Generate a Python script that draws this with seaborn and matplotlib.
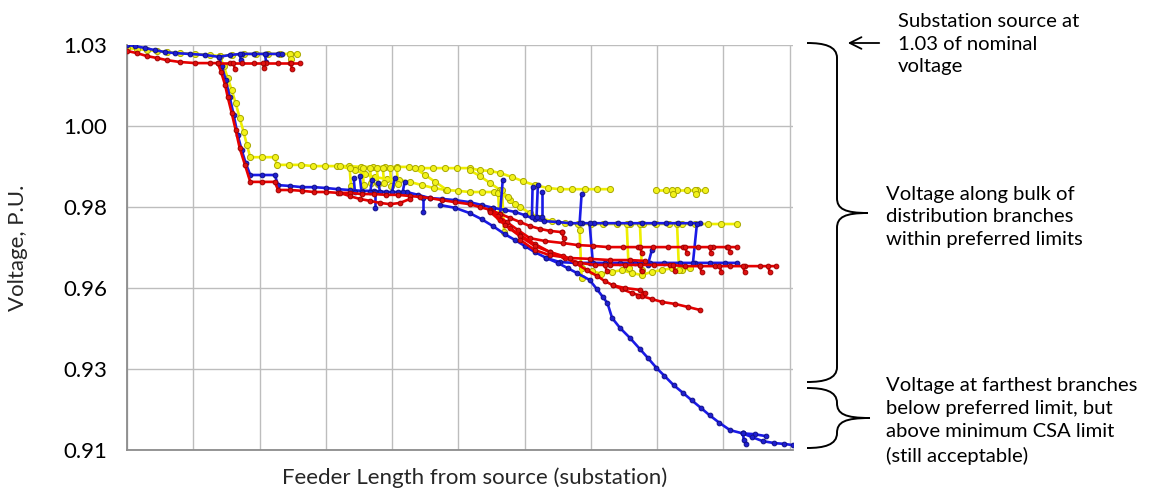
import numpy as np
import pandas as pd
import seaborn as sns
import matplotlib
matplotlib.use("Agg")
import matplotlib.pyplot as plt
from matplotlib.path import Path
from matplotlib.patches import PathPatch
from matplotlib.ticker import NullLocator

# y ticks are drawn evenly spaced although the values are not
Y_TICKS = [0.91, 0.93, 0.96, 0.98, 1.00, 1.03]
Y_TICK_LABELS = ["0.91", "0.93", "0.96", "0.98", "1.00", "1.03"]
Y_SLOTS = [0, 1, 2, 3, 4, 5]

# ---- blue phase ----
BLUE_MAIN_X = [0.00, 0.12, 0.27, 0.42, 0.57, 0.72, 0.95, 1.18, 1.39, 1.43, 1.49, 1.55, 1.61,
               1.67, 1.73, 1.79, 1.86, 2.04, 2.23, 2.28, 2.46, 2.64, 2.82, 3.00, 3.18, 3.36,
               3.54, 3.73, 3.91, 4.09, 4.22, 4.39, 4.57, 4.75, 4.95, 5.17, 5.35, 5.52]
BLUE_MAIN_V = [1.0300, 1.0296, 1.0289, 1.0281, 1.0274, 1.0270, 1.0267, 1.0263, 1.0256, 1.0222,
               1.0170, 1.0107, 1.0041, 0.9978, 0.9941, 0.9909, 0.9879, 0.9879, 0.9879, 0.9854,
               0.9852, 0.9849, 0.9849, 0.9847, 0.9844, 0.9842, 0.9840, 0.9840, 0.9837, 0.9837,
               0.9837, 0.9830, 0.9822, 0.9820, 0.9817, 0.9812, 0.9805, 0.9798]
BLUE_TOP_X = [1.39, 1.55, 1.73, 1.92, 2.10, 2.28, 2.34]
BLUE_TOP_V = [1.0256, 1.0263, 1.0267, 1.0267, 1.0267, 1.0267, 1.0267]
BLUE_UPPER_X = [5.52, 5.70, 5.85, 6.00, 6.15, 6.30, 6.50, 6.68, 6.86, 7.04, 7.22, 7.41, 7.59,
                7.77, 7.95, 8.13, 8.31, 8.49, 8.64]
BLUE_UPPER_V = [0.9798, 0.9793, 0.9788, 0.9780, 0.9770, 0.9765, 0.9763, 0.9760, 0.9760, 0.9760,
                0.9760, 0.9760, 0.9760, 0.9760, 0.9760, 0.9760, 0.9760, 0.9760, 0.9760]
BLUE_LOWER_X = [4.72, 4.95, 5.17, 5.35, 5.52, 5.70, 5.85, 6.00, 6.15, 6.33, 6.53, 6.76, 6.98,
                7.21, 7.44, 7.66, 7.89, 8.11, 8.34, 8.57, 8.79, 9.02, 9.20]
BLUE_LOWER_V = [0.9805, 0.9798, 0.9785, 0.9770, 0.9753, 0.9733, 0.9719, 0.9704, 0.9689, 0.9674,
                0.9664, 0.9662, 0.9662, 0.9662, 0.9662, 0.9662, 0.9662, 0.9662, 0.9662, 0.9662,
                0.9662, 0.9662, 0.9662]
BLUE_FAR_X = [6.33, 6.50, 6.65, 6.79, 6.98, 7.09, 7.18, 7.25, 7.32, 7.44, 7.59, 7.74, 7.86,
              7.99, 8.11, 8.25, 8.39, 8.52, 8.66, 8.79, 8.94, 9.10, 9.29, 9.47, 9.65]
BLUE_FAR_V = [0.9674, 0.9662, 0.9649, 0.9637, 0.9620, 0.9596, 0.9567, 0.9544, 0.9489, 0.9452,
              0.9415, 0.9374, 0.9341, 0.9304, 0.9283, 0.9260, 0.9241, 0.9223, 0.9204, 0.9186,
              0.9167, 0.9149, 0.9141, 0.9139, 0.9134]
BLUE_TAIL_X = [9.29, 9.43, 9.59, 9.77, 9.92, 10.05]
BLUE_TAIL_V = [0.9141, 0.9132, 0.9122, 0.9117, 0.9115, 0.9112]
BLUE_STUB_X = [9.29, 9.31, 9.34]
BLUE_STUB_V = [0.9141, 0.9125, 0.9115]
# short laterals: (x0, v0, x1, v1)
BLUE_LATERALS = [
    (1.70, 1.0267, 1.72, 1.0244), (2.08, 1.0267, 2.10, 1.0237),
    (3.44, 0.9837, 3.42, 0.9872), (3.54, 0.9837, 3.51, 0.9877), (3.67, 0.9837, 3.70, 0.9867),
    (3.82, 0.9837, 3.79, 0.9859), (4.00, 0.9837, 4.04, 0.9872), (4.16, 0.9837, 4.19, 0.9862),
    (3.74, 0.9837, 3.74, 0.9798), (4.46, 0.9822, 4.46, 0.9788),
    (5.63, 0.9783, 5.67, 0.9867), (6.11, 0.9775, 6.12, 0.9849), (6.18, 0.9775, 6.20, 0.9854),
    (6.26, 0.9775, 6.26, 0.9837), (6.83, 0.9760, 6.86, 0.9832), (6.98, 0.9760, 7.03, 0.9662),
    (8.54, 0.9662, 8.60, 0.9758), (7.92, 0.9694, 7.86, 0.9657),
]

# ---- red phase ----
RED_MAIN_X = [0.00, 0.15, 0.30, 0.45, 0.60, 0.80, 1.03, 1.25, 1.37, 1.42, 1.48, 1.52, 1.58,
              1.64, 1.70, 1.78, 1.86, 2.04, 2.23, 2.28, 2.46, 2.64, 2.82, 3.00, 3.18, 3.36,
              3.54, 3.73, 3.91, 4.09, 4.27, 4.42, 4.57, 4.75, 4.95, 5.17, 5.32, 5.48]
RED_MAIN_V = [1.0278, 1.0270, 1.0259, 1.0252, 1.0244, 1.0237, 1.0233, 1.0233, 1.0233, 1.0200,
              1.0152, 1.0107, 1.0048, 0.9990, 0.9946, 0.9904, 0.9862, 0.9862, 0.9862, 0.9842,
              0.9842, 0.9840, 0.9837, 0.9837, 0.9835, 0.9835, 0.9832, 0.9832, 0.9830, 0.9830,
              0.9827, 0.9825, 0.9822, 0.9817, 0.9812, 0.9807, 0.9800, 0.9793]
RED_TOP_X = [1.37, 1.55, 1.73, 1.92, 2.10, 2.28, 2.46, 2.61]
RED_TOP_V = [1.0233, 1.0233, 1.0233, 1.0233, 1.0233, 1.0233, 1.0233, 1.0233]
RED_BULGE_X = [3.21, 3.36, 3.51, 3.67, 3.82, 3.97, 4.12, 4.27]
RED_BULGE_V = [0.9835, 0.9827, 0.9820, 0.9815, 0.9810, 0.9807, 0.9810, 0.9820]
RED_SHORT_X = [5.48, 5.63, 5.78, 5.93, 6.08, 6.23, 6.38, 6.56]
RED_SHORT_V = [0.9793, 0.9783, 0.9773, 0.9763, 0.9753, 0.9746, 0.9741, 0.9738]
RED_UPPER_X = [5.48, 5.60, 5.73, 5.90, 6.08, 6.31, 6.58, 6.80, 7.03, 7.26, 7.48, 7.71, 7.93,
               8.16, 8.39, 8.61, 8.84, 9.05, 9.20]
RED_UPPER_V = [0.9793, 0.9778, 0.9763, 0.9743, 0.9723, 0.9716, 0.9711, 0.9706, 0.9704, 0.9701,
               0.9701, 0.9701, 0.9701, 0.9701, 0.9701, 0.9701, 0.9701, 0.9701, 0.9701]
RED_LONG_X = [5.48, 5.63, 5.78, 5.93, 6.15, 6.38, 6.61, 6.83, 7.06, 7.29, 7.51, 7.74, 7.96,
              8.19, 8.42, 8.64, 8.87, 9.10, 9.32, 9.55, 9.80]
RED_LONG_V = [0.9790, 0.9768, 0.9748, 0.9731, 0.9709, 0.9689, 0.9674, 0.9662, 0.9657, 0.9657,
              0.9657, 0.9657, 0.9657, 0.9657, 0.9654, 0.9654, 0.9654, 0.9654, 0.9654, 0.9654,
              0.9654]
RED_LOW_X = [5.48, 5.70, 5.93, 6.15, 6.38, 6.58, 6.76, 6.94, 7.09, 7.21, 7.33, 7.47, 7.62,
             7.77, 7.92, 8.08, 8.27, 8.46, 8.64]
RED_LOW_V = [0.9788, 0.9756, 0.9728, 0.9704, 0.9689, 0.9679, 0.9662, 0.9644, 0.9630, 0.9617,
             0.9607, 0.9596, 0.9581, 0.9570, 0.9559, 0.9548, 0.9541, 0.9530, 0.9519]
RED_LOOP_X = [7.33, 7.51, 7.74, 7.81, 7.71]
RED_LOOP_V = [0.9607, 0.9600, 0.9593, 0.9581, 0.9570]
RED_MID_X = [5.93, 6.15, 6.38, 6.68, 6.98, 7.29, 7.59, 7.81]
RED_MID_V = [0.9719, 0.9694, 0.9681, 0.9674, 0.9672, 0.9669, 0.9669, 0.9667]
RED_LATERALS = [
    (1.60, 1.0233, 1.63, 1.0211), (2.05, 1.0233, 2.07, 1.0215), (2.47, 1.0233, 2.49, 1.0211),
    (6.56, 0.9738, 6.59, 0.9723), (7.74, 0.9701, 7.77, 0.9686), (8.42, 0.9701, 8.45, 0.9686),
    (8.79, 0.9701, 8.82, 0.9686), (9.07, 0.9701, 9.10, 0.9689), (7.21, 0.9657, 7.24, 0.9642),
    (7.74, 0.9657, 7.77, 0.9642), (8.24, 0.9657, 8.27, 0.9642), (8.64, 0.9654, 8.67, 0.9640),
    (8.94, 0.9654, 8.97, 0.9640), (9.29, 0.9654, 9.32, 0.9640), (9.67, 0.9654, 9.70, 0.9640),
]

# ---- yellow phase ----
YELLOW_MAIN_X = [0.00, 0.15, 0.30, 0.45, 0.60, 0.80, 1.03, 1.25, 1.40, 1.46, 1.52, 1.58, 1.64,
                 1.70, 1.76, 1.81, 1.86, 2.04, 2.23, 2.26, 2.44, 2.62, 2.81, 2.99, 3.17, 3.35,
                 3.53, 3.71, 3.89, 4.07, 4.25, 4.43, 4.62, 4.80, 4.98, 5.17, 5.32, 5.48, 5.63,
                 5.81, 5.97, 6.15, 6.35, 6.53, 6.71, 6.91, 7.09, 7.29]
YELLOW_MAIN_V = [1.0289, 1.0285, 1.0281, 1.0278, 1.0274, 1.0270, 1.0267, 1.0263, 1.0259, 1.0222,
                 1.0178, 1.0133, 1.0085, 1.0030, 0.9985, 0.9953, 0.9923, 0.9923, 0.9923, 0.9904,
                 0.9904, 0.9904, 0.9901, 0.9901, 0.9901, 0.9901, 0.9899, 0.9899, 0.9899, 0.9899,
                 0.9899, 0.9896, 0.9896, 0.9896, 0.9896, 0.9896, 0.9891, 0.9889, 0.9884, 0.9874,
                 0.9864, 0.9854, 0.9847, 0.9844, 0.9844, 0.9844, 0.9844, 0.9844]
YELLOW_TOP_X = [1.40, 1.58, 1.76, 1.94, 2.13, 2.31, 2.46, 2.56]
YELLOW_TOP_V = [1.0259, 1.0263, 1.0267, 1.0267, 1.0267, 1.0267, 1.0267, 1.0267]
YELLOW_MID_X = [3.21, 3.44, 3.59, 3.74, 3.92, 4.10, 4.27, 4.45, 4.63, 4.81, 4.99, 5.17, 5.35,
                5.54, 5.63, 5.78, 5.93, 6.08, 6.23, 6.41, 6.61, 6.80, 7.00, 7.19, 7.39, 7.59,
                7.78, 7.98, 8.18, 8.37, 8.57, 8.76, 8.97, 9.20]
YELLOW_MID_V = [0.9901, 0.9891, 0.9881, 0.9874, 0.9869, 0.9867, 0.9862, 0.9854, 0.9847, 0.9842,
                0.9840, 0.9837, 0.9837, 0.9837, 0.9835, 0.9817, 0.9800, 0.9785, 0.9773, 0.9765,
                0.9760, 0.9758, 0.9758, 0.9758, 0.9758, 0.9758, 0.9758, 0.9758, 0.9758, 0.9758,
                0.9758, 0.9758, 0.9758, 0.9758]
YELLOW_DIAG_X = [5.17, 5.32, 5.48, 5.63, 5.75, 5.85]
YELLOW_DIAG_V = [0.9891, 0.9877, 0.9859, 0.9842, 0.9825, 0.9807]
YELLOW_SLANT_X = [4.34, 4.50, 4.65, 4.83]
YELLOW_SLANT_V = [0.9896, 0.9879, 0.9862, 0.9842]
YELLOW_FAR_X = [7.99, 8.14, 8.30, 8.45, 8.60, 8.72]
YELLOW_FAR_V = [0.9842, 0.9842, 0.9842, 0.9842, 0.9842, 0.9842]
YELLOW_LOW_X = [6.86, 7.01, 7.16, 7.32, 7.47, 7.62, 7.77, 7.92, 8.07, 8.22, 8.37, 8.49]
YELLOW_LOW_V = [0.9649, 0.9642, 0.9635, 0.9640, 0.9644, 0.9637, 0.9632, 0.9640, 0.9644, 0.9649,
                0.9644, 0.9649]
YELLOW_LATERALS = [
    (2.46, 1.0267, 2.47, 1.0248),
    (3.36, 0.9896, 3.38, 0.9851), (3.56, 0.9896, 3.57, 0.9854), (3.67, 0.9896, 3.68, 0.9859),
    (3.77, 0.9896, 3.79, 0.9857), (3.86, 0.9896, 3.88, 0.9859), (3.97, 0.9896, 3.99, 0.9851),
    (4.07, 0.9896, 4.09, 0.9857), (5.60, 0.9835, 5.62, 0.9775), (5.66, 0.9842, 5.69, 0.9738),
    (6.83, 0.9743, 6.86, 0.9625), (7.54, 0.9758, 7.57, 0.9649), (7.74, 0.9758, 7.77, 0.9644),
    (8.30, 0.9758, 8.33, 0.9644), (8.22, 0.9842, 8.24, 0.9832), (8.57, 0.9842, 8.59, 0.9832),
]


def phase_frame(branches, laterals, name):
    parts = []
    for i, (xs, vs) in enumerate(branches):
        parts.append(pd.DataFrame({"length": xs, "voltage": vs, "branch": f"{name}{i}"}))
    for j, (x0, v0, x1, v1) in enumerate(laterals):
        parts.append(pd.DataFrame({"length": [x0, x1], "voltage": [v0, v1],
                                   "branch": f"{name}L{j}"}))
    return pd.concat(parts, ignore_index=True)


def to_slot(v):
    return np.interp(v, Y_TICKS, Y_SLOTS)


def to_volt(p):
    return np.interp(p, Y_SLOTS, Y_TICKS)


def draw_phase(ax, df, line, face, edge, ms, z):
    sns.lineplot(data=df, x="length", y="voltage", units="branch", estimator=None,
                 sort=False, color=line, marker="o", markersize=ms,
                 markerfacecolor=face, markeredgecolor=edge, markeredgewidth=0.7,
                 linewidth=1.9, legend=False, zorder=z, ax=ax)


def brace(ax, x0, xv, tip, y_top, y_mid, y_bot):
    verts = [(x0, y_top), (x0 + 17, y_top), (xv, y_top + 3), (xv, y_top + 15),
             (xv, y_mid - 15), (xv, y_mid - 4), (xv + 8, y_mid), (tip, y_mid),
             (xv + 8, y_mid), (xv, y_mid + 4), (xv, y_mid + 15),
             (xv, y_bot - 15), (xv, y_bot - 3), (x0 + 17, y_bot), (x0, y_bot)]
    codes = [Path.MOVETO, Path.CURVE4, Path.CURVE4, Path.CURVE4,
             Path.LINETO, Path.CURVE4, Path.CURVE4, Path.CURVE4,
             Path.CURVE4, Path.CURVE4, Path.CURVE4,
             Path.LINETO, Path.CURVE4, Path.CURVE4, Path.CURVE4]
    ax.add_patch(PathPatch(Path(verts, codes), fill=False, lw=1.4, color="black"))


def main():
    sns.set_theme(style="whitegrid")
    plt.rcParams["font.family"] = ["Lato", "DejaVu Sans"]

    blue = phase_frame(
        [(BLUE_MAIN_X, BLUE_MAIN_V), (BLUE_TOP_X, BLUE_TOP_V), (BLUE_UPPER_X, BLUE_UPPER_V),
         (BLUE_LOWER_X, BLUE_LOWER_V), (BLUE_FAR_X, BLUE_FAR_V), (BLUE_TAIL_X, BLUE_TAIL_V),
         (BLUE_STUB_X, BLUE_STUB_V)], BLUE_LATERALS, "B")
    red = phase_frame(
        [(RED_MAIN_X, RED_MAIN_V), (RED_TOP_X, RED_TOP_V), (RED_BULGE_X, RED_BULGE_V),
         (RED_SHORT_X, RED_SHORT_V), (RED_UPPER_X, RED_UPPER_V), (RED_LONG_X, RED_LONG_V),
         (RED_LOW_X, RED_LOW_V), (RED_LOOP_X, RED_LOOP_V), (RED_MID_X, RED_MID_V)],
        RED_LATERALS, "R")
    yellow = phase_frame(
        [(YELLOW_MAIN_X, YELLOW_MAIN_V), (YELLOW_TOP_X, YELLOW_TOP_V),
         (YELLOW_MID_X, YELLOW_MID_V), (YELLOW_DIAG_X, YELLOW_DIAG_V),
         (YELLOW_SLANT_X, YELLOW_SLANT_V), (YELLOW_FAR_X, YELLOW_FAR_V),
         (YELLOW_LOW_X, YELLOW_LOW_V)], YELLOW_LATERALS, "Y")

    fig = plt.figure(figsize=(11.51, 4.96), dpi=100)
    ax = fig.add_axes([127 / 1151, 46 / 496, 666 / 1151, 405 / 496])

    draw_phase(ax, yellow, "#eeee00", "#f2f21a", "#a8a800", 4.4, 2)
    draw_phase(ax, blue, "#1a1ae6", "#1f1fd0", "#10108a", 3.4, 3)
    draw_phase(ax, red, "#e60000", "#e01010", "#a00000", 3.4, 4)

    ax.set_yscale("function", functions=(to_slot, to_volt))
    ax.set_ylim(0.91, 1.03)
    ax.set_yticks(Y_TICKS)
    ax.set_yticklabels(Y_TICK_LABELS)
    ax.yaxis.set_minor_locator(NullLocator())
    ax.set_xlim(0, 10.05)
    ax.set_xticks(range(11))
    ax.set_xticklabels([])
    ax.tick_params(axis="both", length=0)
    ax.tick_params(axis="y", labelsize=16, pad=14, colors="black")
    ax.grid(True, color="#bdbdbd", linewidth=1.0)
    for side in ["top", "right"]:
        ax.spines[side].set_visible(False)
    for side in ["left", "bottom"]:
        ax.spines[side].set_color("#8c8c8c")
        ax.spines[side].set_linewidth(1.3)

    ax.set_xlabel("Feeder Length from source (substation)", fontsize=16)
    ax.xaxis.set_label_coords((475 - 127) / 666, -(468 - 451) / 405)
    ax.set_ylabel("Voltage, P.U.", fontsize=16)
    ax.yaxis.set_label_coords(-(127 - 28) / 666, 0.5)

    # annotation layer in pixel coordinates
    note = fig.add_axes([0, 0, 1, 1])
    note.set_xlim(0, 1151)
    note.set_ylim(496, 0)
    note.axis("off")
    note.patch.set_alpha(0)

    brace(note, 807, 837, 868, 43, 213, 382)
    brace(note, 807, 837, 870, 388, 418, 448)
    note.annotate("", xy=(845, 43), xytext=(882, 43),
                  arrowprops=dict(arrowstyle="->,head_length=0.7,head_width=0.35",
                                  lw=1.3, color="black"))

    kw = dict(fontsize=14.6, ha="left", va="center", linespacing=1.42, color="black")
    note.text(898, 44, "Substation source at\n1.03 of nominal\nvoltage", **kw)
    note.text(886, 217, "Voltage along bulk of\ndistribution branches\nwithin preferred limits",
              **kw)
    note.text(886, 421, "Voltage at farthest branches\nbelow preferred limit, but\n"
              "above minimum CSA limit\n(still acceptable)", **kw)

    fig.savefig("out.png", dpi=100)


if __name__ == "__main__":
    main()
